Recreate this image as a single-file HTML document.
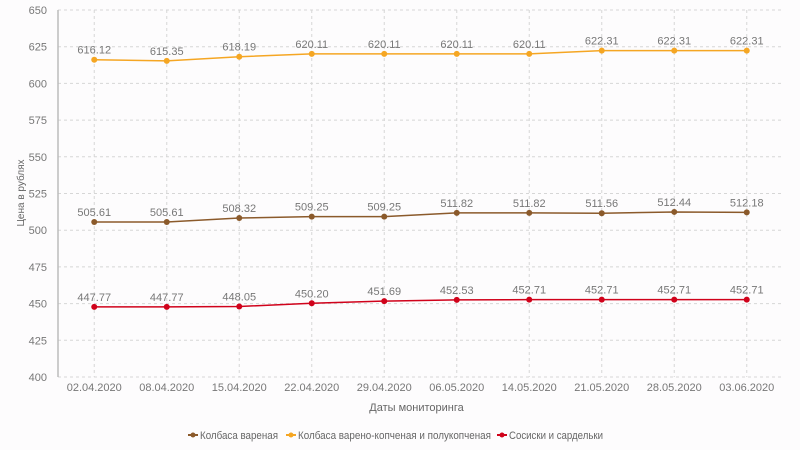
<!DOCTYPE html>
<html><head><meta charset="utf-8"><style>
body{margin:0;background:#fdfcfd;font-family:"Liberation Sans",sans-serif;}
svg{display:block}
</style></head><body>
<svg id="c" width="800" height="450"></svg>
<script>
const categories=["02.04.2020","08.04.2020","15.04.2020","22.04.2020","29.04.2020","06.05.2020","14.05.2020","21.05.2020","28.05.2020","03.06.2020"];
const seriesNames=["Колбаса вареная","Колбаса варено-копченая и полукопченая","Сосиски и сардельки"];
const boiled=[505.61,505.61,508.32,509.25,509.25,511.82,511.82,511.56,512.44,512.18];
const smoked=[616.12,615.35,618.19,620.11,620.11,620.11,620.11,622.31,622.31,622.31];
const sausages=[447.77,447.77,448.05,450.20,451.69,452.53,452.71,452.71,452.71,452.71];
const yTicks=[400,425,450,475,500,525,550,575,600,625,650];
const colors=["#8b5a2b","#f5a623","#d0021b"];
const svg=document.getElementById('c');const NS="http://www.w3.org/2000/svg";
const L=58,R=783,T=10,B=377,yMin=400,yMax=650;
const bw=(R-L)/categories.length;
const x=i=>L+bw*(i+0.5);
const y=v=>B-(v-yMin)/(yMax-yMin)*(B-T);
function mk(t,a,txt){const e=document.createElementNS(NS,t);for(const k in a)e.setAttribute(k,a[k]);if(txt!==undefined)e.textContent=txt;svg.appendChild(e);return e;}
yTicks.forEach(v=>{
 const g=mk('line',{x1:L,x2:R,y1:y(v),y2:y(v),stroke:'#d6d6d6','stroke-dasharray':'3,3'});
 
 
 const t=mk('text',{x:L-11,y:y(v)+4,'text-anchor':'end','font-size':11,fill:'#777'},v);
 
 
});
categories.forEach((c,i)=>{
 const g=mk('line',{x1:x(i),x2:x(i),y1:T,y2:B,stroke:'#d6d6d6','stroke-dasharray':'3,3'});
 
 
 const t=mk('text',{x:x(i),y:B+14,'text-anchor':'middle','font-size':11,fill:'#777'},c);
 
 
});
const ax=mk('line',{x1:L,x2:L,y1:T,y2:B,stroke:'#bbb','stroke-width':1.5});


const xt=mk('text',{x:(L+R)/2-4,y:411,'text-anchor':'middle','font-size':11,fill:'#666'},'Даты мониторинга');


const yt=mk('text',{x:0,y:0,transform:'translate(24,193) rotate(-90)','text-anchor':'middle','font-size':10,fill:'#666'},'Цена в рублях');


[boiled,smoked,sausages].forEach((s,k)=>{
 const p=mk('polyline',{points:s.map((v,i)=>x(i)+','+y(v)).join(' '),fill:'none',stroke:colors[k],'stroke-width':1.5});
 
 
 s.forEach((v,i)=>{
  const c=mk('circle',{cx:x(i),cy:y(v),r:3,fill:colors[k]});
  
  
  const t=mk('text',{x:x(i),y:y(v)-6,'text-anchor':'middle','font-size':11,fill:'#777'},v.toFixed(2));
  
  
 });
});
const legX=[188,286,497];
const legW=[78,193,94];
seriesNames.forEach((n,k)=>{
 const lx=legX[k];
 const l=mk('line',{x1:lx,x2:lx+10,y1:435,y2:435,stroke:colors[k],'stroke-width':2});
 
 
 const c=mk('circle',{cx:lx+5,cy:435,r:2.5,fill:colors[k]});
 
 
 const t=mk('text',{x:lx+12,y:439,'font-size':11,fill:'#666',textLength:legW[k],lengthAdjust:'spacingAndGlyphs'},n);
 
 
});
</script>
</body></html>
